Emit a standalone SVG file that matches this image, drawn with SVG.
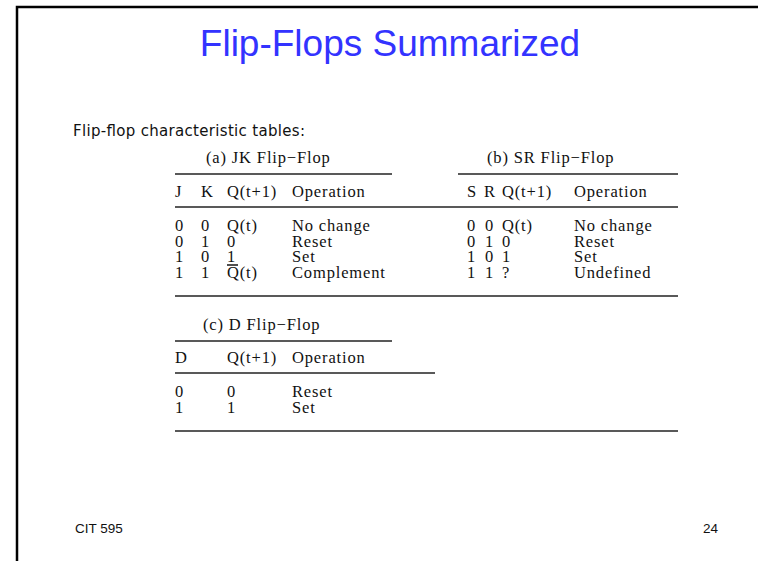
<svg xmlns="http://www.w3.org/2000/svg" width="758" height="561" viewBox="0 0 758 561">
<style>
.t{font-family:"Liberation Serif","Times New Roman",serif;font-size:16.5px;letter-spacing:0.85px;fill:#111}
.s{font-family:"Liberation Sans",Arial,sans-serif;fill:#111}
.r{stroke:#222;stroke-width:1.6;fill:none}
</style>
<rect width="758" height="561" fill="#fff"/>
<g id="frame">
<path d="M17 561 V7 H758" stroke="#000" stroke-width="2.5" fill="none"/>
</g>
<g id="title">
<text x="390" y="56" font-family="Liberation Sans, Arial, sans-serif" font-size="37" fill="#3333ff" text-anchor="middle">Flip-Flops Summarized</text>
</g>
<g id="subtitle">
<text x="73" y="136" font-family="DejaVu Sans, sans-serif" font-size="15" fill="#111" textLength="232" lengthAdjust="spacing">Flip-flop characteristic tables:</text>
</g>
<g id="jk-table">
<text class="t" x="206" y="163">(a) JK Flip−Flop</text>
<text class="t" x="175" y="197">J</text>
<text class="t" x="201" y="197">K</text>
<text class="t" x="227" y="197">Q(t+1)</text>
<text class="t" x="292" y="197">Operation</text>
<text class="t" x="175" y="231">0</text><text class="t" x="201" y="231">0</text><text class="t" x="227" y="231">Q(t)</text><text class="t" x="292" y="231">No change</text>
<text class="t" x="175" y="247">0</text><text class="t" x="201" y="247">1</text><text class="t" x="227" y="247">0</text><text class="t" x="292" y="247">Reset</text>
<text class="t" x="175" y="262">1</text><text class="t" x="201" y="262">0</text><text class="t" x="227" y="262">1</text><text class="t" x="292" y="262">Set</text>
<text class="t" x="175" y="278">1</text><text class="t" x="201" y="278">1</text><text class="t" x="227" y="278">Q(t)</text><text class="t" x="292" y="278">Complement</text>
<line class="r" x1="227" y1="265" x2="238" y2="265" stroke-width="1.2"/>
</g>
<g id="sr-table">
<text class="t" x="487" y="163">(b) SR Flip−Flop</text>
<text class="t" x="467" y="197">S</text>
<text class="t" x="484" y="197">R</text>
<text class="t" x="502" y="197">Q(t+1)</text>
<text class="t" x="574" y="197">Operation</text>
<text class="t" x="467" y="231">0</text><text class="t" x="485" y="231">0</text><text class="t" x="502" y="231">Q(t)</text><text class="t" x="574" y="231">No change</text>
<text class="t" x="467" y="247">0</text><text class="t" x="485" y="247">1</text><text class="t" x="502" y="247">0</text><text class="t" x="574" y="247">Reset</text>
<text class="t" x="467" y="262">1</text><text class="t" x="485" y="262">0</text><text class="t" x="502" y="262">1</text><text class="t" x="574" y="262">Set</text>
<text class="t" x="467" y="278">1</text><text class="t" x="485" y="278">1</text><text class="t" x="502" y="278">?</text><text class="t" x="574" y="278">Undefined</text>
</g>
<g id="d-table">
<text class="t" x="203" y="330">(c) D Flip−Flop</text>
<text class="t" x="175" y="363">D</text>
<text class="t" x="227" y="363">Q(t+1)</text>
<text class="t" x="292" y="363">Operation</text>
<text class="t" x="175" y="397">0</text><text class="t" x="227" y="397">0</text><text class="t" x="292" y="397">Reset</text>
<text class="t" x="175" y="413">1</text><text class="t" x="227" y="413">1</text><text class="t" x="292" y="413">Set</text>
</g>
<g id="rules">
<line class="r" x1="175" y1="174" x2="392" y2="174"/>
<line class="r" x1="458" y1="174" x2="678" y2="174"/>
<line class="r" x1="175" y1="207" x2="678" y2="207"/>
<line class="r" x1="175" y1="296" x2="678" y2="296"/>
<line class="r" x1="175" y1="341" x2="392" y2="341"/>
<line class="r" x1="175" y1="373" x2="435" y2="373"/>
<line class="r" x1="175" y1="431" x2="678" y2="431"/>
</g>
<g id="footer">
<text class="s" x="75" y="533" font-size="13.5">CIT 595</text>
<text class="s" x="718" y="533" font-size="13.5" text-anchor="end">24</text>
</g>
</svg>
